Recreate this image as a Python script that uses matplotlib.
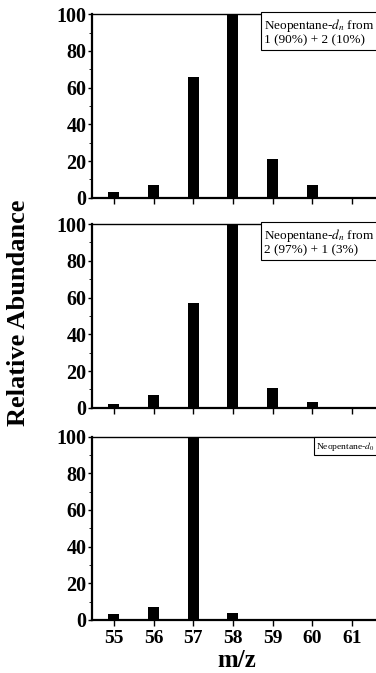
import matplotlib.pyplot as plt
from matplotlib.ticker import MultipleLocator

# m/z values and relative abundances for each spectrum
mz = [55, 56, 57, 58, 59, 60]
abund_top = [3, 7, 66, 100, 21, 7]
abund_mid = [2, 7, 57, 100, 11, 3]
mz_d0 = [55, 56, 57, 58]
abund_d0 = [3, 7, 100, 4]

labels = ["Neopentane-$d_n$ from\n1 (90%) + 2 (10%)",
          "Neopentane-$d_n$ from\n2 (97%) + 1 (3%)",
          "Neopentane-$d_0$"]
xticks = [55, 56, 57, 58, 59, 60, 61]

plt.rcParams['font.family'] = ['Liberation Serif', 'DejaVu Serif']
plt.rcParams['mathtext.fontset'] = 'stix'

fig = plt.figure(figsize=(3.76, 6.73), dpi=100)

# panel boxes in figure fractions: (bottom, height)
panels = [(0.706, 0.273), (0.394, 0.273), (0.079, 0.272)]
data = [(mz, abund_top), (mz, abund_mid), (mz_d0, abund_d0)]
label_x = [0.595, 0.595, 0.775]
label_size = [9.5, 9.5, 6.8]

for i, ((bottom, height), (xs, ys), lab) in enumerate(zip(panels, data, labels)):
    ax = fig.add_axes([0.245, bottom, 0.77, height])
    ax.bar(xs, ys, width=0.28, color='black')
    ax.set_xlim(54.45, 61.75)
    ax.set_ylim(0, 100)
    ax.set_yticks([0, 20, 40, 60, 80, 100])
    ax.yaxis.set_minor_locator(MultipleLocator(10))
    ax.set_xticks(xticks)
    ax.tick_params(axis='y', labelsize=14.5, width=1, length=3, pad=1)
    ax.tick_params(axis='y', which='minor', length=2)
    ax.tick_params(axis='x', length=4, width=1, direction='out')
    for t in ax.get_yticklabels():
        t.set_fontweight('bold')
    if i < 2:
        ax.set_xticklabels([])
    else:
        ax.set_xticklabels([str(x) for x in xticks], fontsize=14,
                           fontweight='bold')
        ax.set_xlabel("m/z", fontsize=18, fontweight='bold', labelpad=1)
    for s in ['left', 'bottom']:
        ax.spines[s].set_linewidth(1.6)
    ax.spines['top'].set_linewidth(1.0)
    ax.spines['right'].set_visible(False)
    ax.text(label_x[i], 0.985, lab, transform=ax.transAxes,
            fontsize=label_size[i], va='top', ha='left', linespacing=1.05,
            bbox=dict(boxstyle='square,pad=0.25', fc='white', ec='black',
                      lw=0.8))

fig.text(0.048, 0.535, "Relative Abundance", rotation=90, fontsize=19,
         fontweight='bold', ha='center', va='center')

fig.savefig("out.png", dpi=100)
